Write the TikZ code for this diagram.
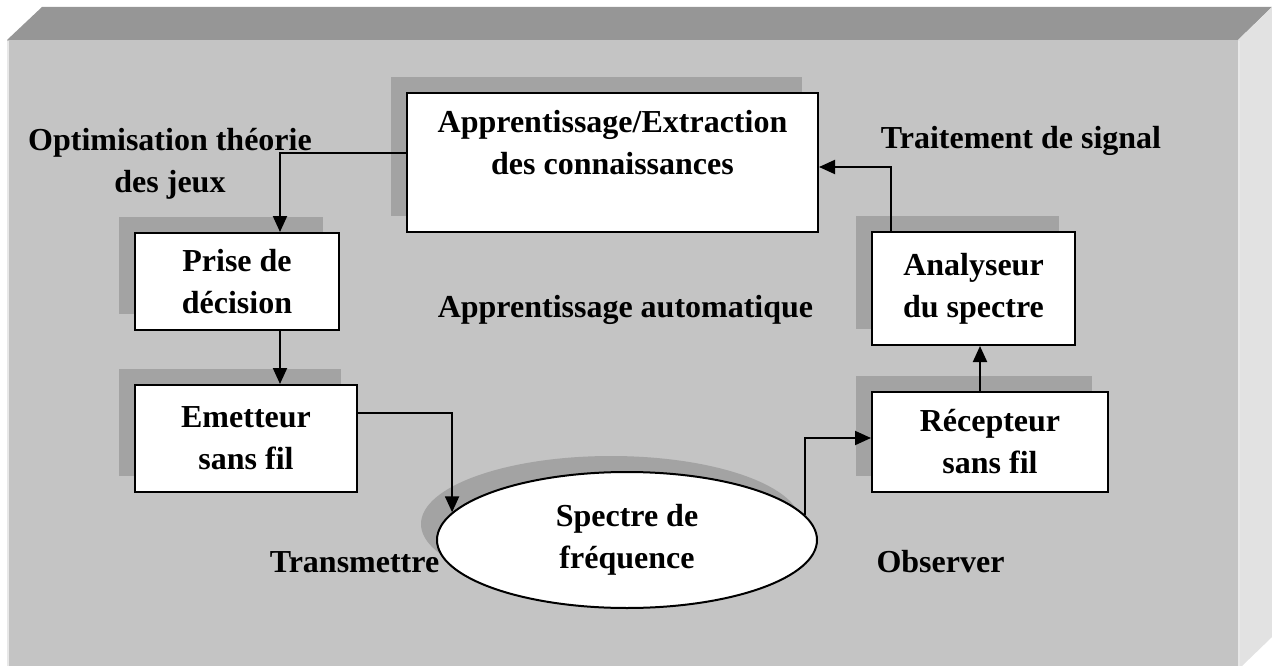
\documentclass[tikz,border=0pt]{standalone}
\usepackage{fontspec}
\setmainfont{Liberation Serif}
\usetikzlibrary{arrows.meta,shapes.geometric,shadows}

\definecolor{frontgray}{RGB}{196,196,196}
\definecolor{topgray}{RGB}{150,150,150}
\definecolor{sidegray}{RGB}{226,226,226}
\definecolor{shadegray}{RGB}{163,163,163}
\definecolor{edgelight}{RGB}{232,232,232}

\begin{document}
\begin{tikzpicture}[x=1pt,y=-1pt,
  txt/.style={font=\bfseries\fontsize{32}{42}\selectfont, align=center, inner sep=0pt},
  boxshadow/.style={drop shadow={shadow xshift=-16pt, shadow yshift=16pt, fill=shadegray, opacity=1}},
  blockbox/.style={rectangle, draw=black, line width=2pt, fill=white, txt, boxshadow},
  link/.style={line width=2pt, -{Triangle[length=16pt,width=14pt]}},
]
\useasboundingbox (0,0) rectangle (1272,666);

% raised panel: top bevel, front face, right side
\fill[topgray] (7,40) -- (42,7) -- (1272,7) -- (1238,40) -- cycle;
\fill[frontgray] (7,40) rectangle (1238,666);
\fill[sidegray] (1238,40) -- (1272,7) -- (1272,637) -- (1242,666) -- (1238,666) -- cycle;
\draw[edgelight, line width=2pt] (8,41) -- (8,666);
\draw[edgelight, line width=2pt] (1239,41) -- (1239,666);

% blocks
\node[blockbox, minimum width=411pt, minimum height=139pt,
      label={[txt, anchor=north, yshift=-18pt]north:{Apprentissage/Extraction\\des connaissances}}]
      (learn) at (612.5,162.5) {};
\node[blockbox, minimum width=204pt, minimum height=97pt] (prise) at (237,281.5) {Prise de\\décision};
\node[blockbox, minimum width=222pt, minimum height=107pt] (emet) at (246,438.5) {Emetteur\\sans fil};
\node[blockbox, minimum width=203pt, minimum height=113pt] (ana) at (973.5,288.5) {Analyseur\\du spectre};
\node[blockbox, minimum width=236pt, minimum height=100pt] (rec) at (990,442) {Récepteur\\sans fil};
\node[ellipse, draw=black, line width=2pt, fill=white, txt, boxshadow,
      minimum width=380pt, minimum height=136pt] (spec) at (627,540) {Spectre de\\fréquence};

% free labels
\node[txt, anchor=north] (opt) at (170,128.5) {Optimisation théorie\\des jeux};
\node[txt, anchor=base] (trait) at (1021,149) {Traitement de signal};
\node[txt, anchor=base] (auto) at (625.5,317) {Apprentissage automatique};
\node[txt, anchor=base] (trans) at (354.5,572) {Transmettre};
\node[txt, anchor=base] (obs) at (940.5,572) {Observer};

% connectors
\draw[link] ([yshift=9pt]learn.west) -| ([xshift=43pt]prise.north);
\draw[link] ([xshift=43pt]prise.south) -- ([xshift=43pt]prise.south |- emet.north);
\draw[link] ([yshift=25.5pt]emet.east) -| (spec.171);
\draw[link] (spec.8) |- ([yshift=4pt]rec.west);
\draw[link] ([xshift=-10pt]rec.north) -- ([xshift=-10pt]rec.north |- ana.south);
\draw[link] ([xshift=-82.5pt]ana.north) |- ([yshift=-4.5pt]learn.east);
\end{tikzpicture}
\end{document}
